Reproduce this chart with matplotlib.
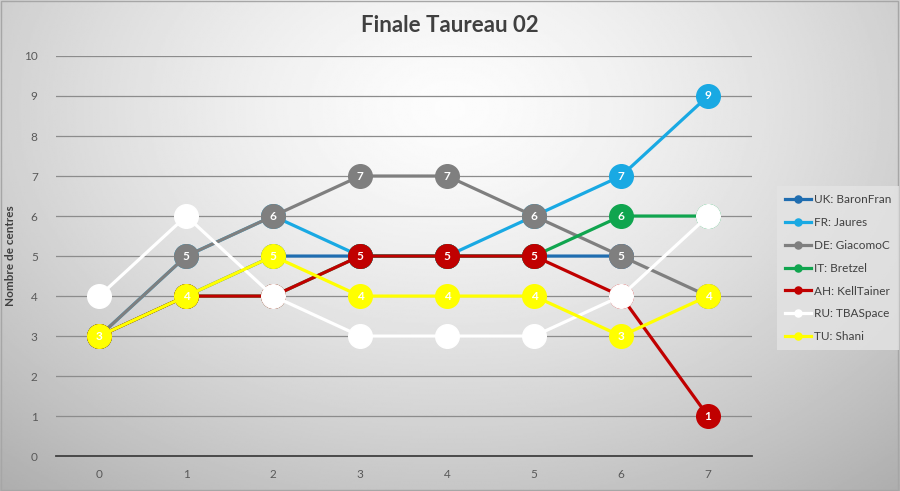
import numpy as np
import matplotlib
matplotlib.use("Agg")
import matplotlib.pyplot as plt
from matplotlib.patches import Rectangle

plt.rcParams['font.family'] = ['Lato', 'DejaVu Sans']

# data
rounds = [0, 1, 2, 3, 4, 5, 6, 7]
uk = [3, 4, 5, 5, 5, 5, 5, np.nan]
fr = [3, 5, 6, 5, 5, 6, 7, 9]
de = [3, 5, 6, 7, 7, 6, 5, 4]
it = [3, 4, 4, 5, 5, 5, 6, 6]
ah = [3, 4, 4, 5, 5, 5, 4, 1]
ru = [4, 6, 4, 3, 3, 3, 4, 6]
tu = [3, 4, 5, 4, 4, 4, 3, 4]

names = ["UK: BaronFran", "FR: Jaures", "DE: GiacomoC", "IT: Bretzel",
         "AH: KellTainer", "RU: TBASpace", "TU: Shani"]
series = [uk, fr, de, it, ah, ru, tu]
colors = ["#1f6db0", "#19a9e3", "#7f7f7f", "#10a54f", "#c00000", "#ffffff", "#ffff00"]

fig = plt.figure(figsize=(9, 4.91), dpi=100)

# radial grey background like the Excel chart area
bg = fig.add_axes([0, 0, 1, 1], zorder=-10)
yy, xx = np.mgrid[0:1:300j, 0:1:500j]
r = np.sqrt(((xx - 0.5) / 0.72) ** 2 + ((yy - 0.22) / 0.95) ** 2)
v = 0.99 - 0.28 * np.clip(r, 0, 1.2) ** 1.4
bg.imshow(v, cmap="gray", vmin=0, vmax=1, aspect="auto", extent=[0, 1, 1, 0])
bg.add_patch(Rectangle((0.001, 0.002), 0.997, 0.995, fill=False, edgecolor="#a6a6a6", lw=1.0))
bg.set_xlim(0, 1)
bg.set_ylim(1, 0)
bg.axis("off")

ax = fig.add_axes([0.062, 0.071, 0.773, 0.815])
ax.patch.set_alpha(0)

# each series with its labels drawn above the previous ones, like Excel
for i, (vals, name, c) in enumerate(zip(series, names, colors)):
    z = 3 + 2 * i
    ax.plot(rounds, vals, color=c, lw=2.3, marker="o", ms=17, mec=c, mfc=c,
            label=name, zorder=z)
    for x, y in zip(rounds, vals):
        if not np.isnan(y):
            ax.text(x, y, str(int(y)), ha="center", va="center", color="white",
                    fontsize=8.5, fontweight="bold", zorder=z + 1)

ax.set_xlim(-0.5, 7.5)
ax.set_ylim(0, 10)
ax.set_xticks(rounds)
ax.set_yticks(range(0, 11))
ax.grid(axis="y", color="#8c8c8c", lw=0.9)
ax.set_axisbelow(True)
for s in ["top", "right", "left"]:
    ax.spines[s].set_visible(False)
ax.spines["bottom"].set_color("#404040")
ax.spines["bottom"].set_linewidth(1.3)
ax.spines["bottom"].set_zorder(2)
ax.tick_params(length=0, labelsize=8.5, labelcolor="#595959")
ax.tick_params(axis="x", pad=9)
ax.tick_params(axis="y", pad=13)
ax.set_ylabel("Nombre de centres", fontsize=8.5, fontweight="bold", color="#404040", labelpad=6)

handles, labels = ax.get_legend_handles_labels()
leg = fig.legend(handles, labels, loc="upper left", bbox_to_anchor=(0.857, 0.633),
                 fontsize=8.5, frameon=True, labelspacing=1.0, handlelength=2.2,
                 handletextpad=0.2, borderpad=0.7, markerscale=0.3)
leg.get_frame().set_facecolor("#e4e4e4")
leg.get_frame().set_edgecolor("none")
leg.get_frame().set_boxstyle("square", pad=0)
for t in leg.get_texts():
    t.set_color("#404040")

fig.text(0.5, 0.948, "Finale Taureau 02", ha="center", va="center",
         fontsize=16, fontweight="bold", color="#404040")

fig.savefig("out.png", dpi=100)
